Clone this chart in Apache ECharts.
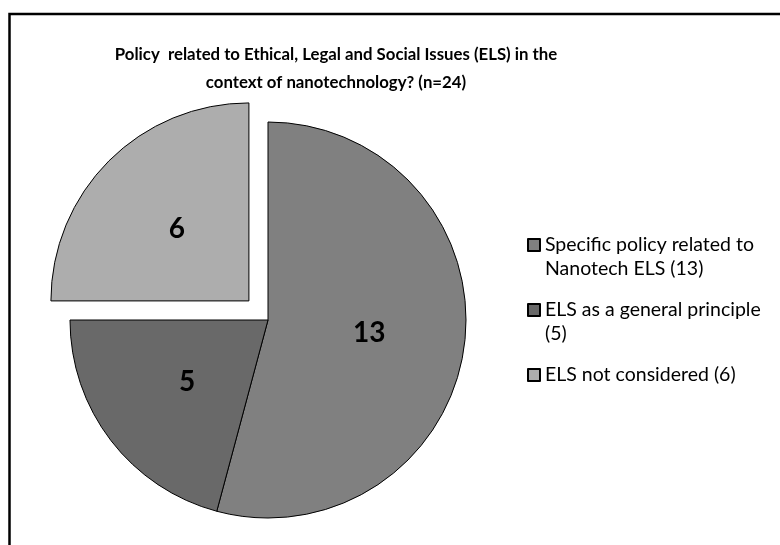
<!DOCTYPE html>
<html>
<head>
<meta charset="utf-8">
<script src="https://cdn.jsdelivr.net/npm/echarts@6/dist/echarts.min.js"></script>
<style>
  html, body { margin: 0; padding: 0; background: #fff; }
  #chart { width: 780px; height: 545px; }
</style>
</head>
<body>
<div id="chart"></div>
<script>
// Survey answers (n = 24)
const categories = [
  'Specific policy related to Nanotech ELS',
  'ELS as a general principle',
  'ELS not considered'
];
const counts = [13, 5, 6];
// Legend wording, wrapped as on the chart
const legendLabels = [
  'Specific policy related to\nNanotech ELS (13)',
  'ELS as a general principle\n(5)',
  'ELS not considered (6)'
];
const sliceColors = ['#808080', '#696969', '#adadad'];
const explodedIndex = 2;

const FONT = 'Lato, "Open Sans", sans-serif';
const LINE_H = 24;

const chart = echarts.init(document.getElementById('chart'), null, { renderer: 'canvas' });

const pieData = categories.map((name, i) => ({
  name: name,
  value: counts[i],
  selected: i === explodedIndex,
  itemStyle: { color: sliceColors[i] }
}));

// Legend text blocks are centred on the swatch; pad every block to three
// lines with the label starting on the middle one, so the first line of
// each label sits level with its swatch.
function legendText(name) {
  const lines = legendLabels[categories.indexOf(name)].split('\n');
  while (lines.length < 2) lines.push('');
  return '\n' + lines.join('\n');
}

chart.setOption({
  animation: false,
  backgroundColor: '#ffffff',
  title: {
    text: 'Policy  related to Ethical, Legal and Social Issues (ELS) in the\ncontext of nanotechnology? (n=24)',
    left: 336,
    textAlign: 'center',
    top: 41,
    padding: 0,
    textStyle: {
      fontFamily: FONT,
      fontWeight: 'bold',
      fontSize: 16.8,
      lineHeight: 28,
      color: '#000'
    }
  },
  legend: {
    orient: 'vertical',
    left: 527,
    top: 209,
    padding: 0,
    itemWidth: 12,
    itemHeight: 12,
    itemGap: 65 - 3 * LINE_H,
    icon: 'rect',
    selectedMode: false,
    data: categories,
    formatter: legendText,
    textStyle: {
      fontFamily: FONT,
      fontSize: 19.5,
      lineHeight: LINE_H,
      color: '#000'
    }
  },
  series: [{
    type: 'pie',
    center: [268, 320],
    radius: 198,
    startAngle: 90,
    clockwise: true,
    selectedMode: 'single',
    selectedOffset: 27,
    avoidLabelOverlap: false,
    label: {
      show: true,
      position: 'inside',
      formatter: '{c}',
      fontFamily: FONT,
      fontWeight: 'bold',
      fontSize: 28,
      color: '#000'
    },
    labelLine: { show: false },
    itemStyle: { borderColor: '#000', borderWidth: 1 },
    emphasis: { disabled: true },
    data: pieData
  }],
  graphic: [{
    type: 'rect',
    shape: { x: 9.5, y: 14, width: 800, height: 600 },
    style: { fill: 'none', stroke: '#000', lineWidth: 2.5 },
    silent: true
  }]
});
</script>
</body>
</html>
